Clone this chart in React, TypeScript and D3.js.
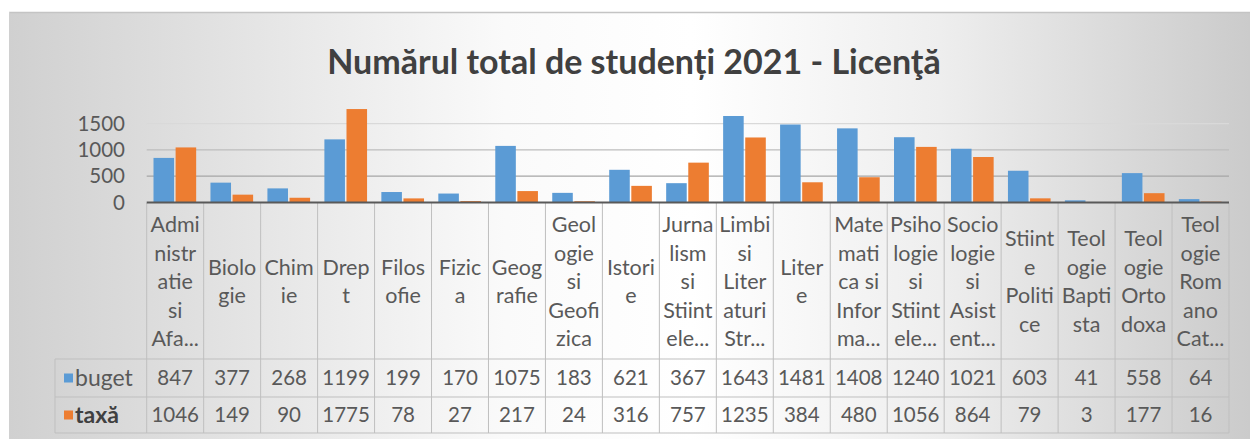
import React from "react";
import * as d3 from "d3";

const title = "Numărul total de studenți 2021 - Licenţă";
const categories = [
  "Administratie si Afaceri", "Biologie", "Chimie", "Drept", "Filosofie", "Fizica",
  "Geografie", "Geologie si Geofizica", "Istorie", "Jurnalism si Stiintele Comunicarii",
  "Limbi si Literaturi Straine", "Litere", "Matematica si Informatica",
  "Psihologie si Stiintele Educatiei", "Sociologie si Asistenta Sociala", "Stiinte Politice",
  "Teologie Baptista", "Teologie Ortodoxa", "Teologie Romano Catolica",
];
const categoryLines = [
  ["Admi", "nistr", "atie", "si", "Afa..."],
  ["Biolo", "gie"],
  ["Chim", "ie"],
  ["Drep", "t"],
  ["Filos", "ofie"],
  ["Fizic", "a"],
  ["Geog", "rafie"],
  ["Geol", "ogie", "si", "Geofi", "zica"],
  ["Istori", "e"],
  ["Jurna", "lism", "si", "Stiint", "ele..."],
  ["Limbi", "si", "Liter", "aturi", "Str..."],
  ["Liter", "e"],
  ["Mate", "mati", "ca si", "Infor", "ma..."],
  ["Psiho", "logie", "si", "Stiint", "ele..."],
  ["Socio", "logie", "si", "Asist", "ent..."],
  ["Stiint", "e", "Politi", "ce"],
  ["Teol", "ogie", "Bapti", "sta"],
  ["Teol", "ogie", "Orto", "doxa"],
  ["Teol", "ogie", "Rom", "ano", "Cat..."],
];
const seriesNames = ["buget", "taxă"];
const buget = [847, 377, 268, 1199, 199, 170, 1075, 183, 621, 367, 1643, 1481, 1408, 1240, 1021, 603, 41, 558, 64];
const taxa = [1046, 149, 90, 1775, 78, 27, 217, 24, 316, 757, 1235, 384, 480, 1056, 864, 79, 3, 177, 16];
const yTicks = [0, 500, 1000, 1500];

const colors = ["#5B9BD5", "#ED7D31"];
const gridColors = ["#595959", "#a6a6a6", "#bdbdbd", "#d9d9d9"];
const FONT = "Lato, 'Open Sans', sans-serif";
const textColor = "#595959";

export default function App() {
  const W = 1250, H = 439;
  const left = 146.7, right = 1229;
  const x = d3.scaleBand<string>().domain(categories).range([left, right]).paddingInner(0).paddingOuter(0);
  const bw = x.bandwidth();
  const xs = d3.scaleBand<string>().domain(seriesNames).range([6.8, bw - 7.5]).paddingInner(0.07);
  const y = d3.scaleLinear().domain([0, 2000]).range([202.5, 97.2]);
  const values = [buget, taxa];

  const headerTop = 203, headerBottom = 359, row1Bottom = 397, row2Bottom = 433;
  const headerCenter = (headerTop + headerBottom) / 2 + 0.5;
  const lineStep = 28.5;
  const fs = 20.5;
  const fsHead = 21.5;
  const rowCenters = [378, 415];

  return (
    <svg width={W} height={H} style={{ position: "absolute", left: 0, top: 0, display: "block" }}
      xmlns="http://www.w3.org/2000/svg">
      <defs>
        <linearGradient id="bg" x1="0" x2="1" y1="0" y2="0">
          <stop offset="0" stopColor="#d0d0d0" />
          <stop offset="0.4" stopColor="#fafafa" />
          <stop offset="0.55" stopColor="#ffffff" />
          <stop offset="0.75" stopColor="#eeeeee" />
          <stop offset="1" stopColor="#cbcbcb" />
        </linearGradient>
      </defs>
      <rect x={0} y={0} width={W} height={H} fill="#ffffff" />
      <rect x={9} y={12} width={W - 9} height={H - 12} fill="url(#bg)" />
      <line x1={9} x2={W} y1={12.5} y2={12.5} stroke="#c4c4c4" strokeWidth={1.5} />
      <line x1={9.5} x2={9.5} y1={12} y2={H} stroke="#d0d0d0" strokeWidth={1} />

      <text x={634} y={74} textAnchor="middle" fontFamily={FONT} fontWeight="bold" fontSize={34} fill="#404040">
        {title}
      </text>

      {yTicks.map((t, i) =>
        t === 0 ? null : (
          <line key={"g" + t} x1={left} x2={right} y1={y(t)} y2={y(t)} stroke={gridColors[i]} strokeWidth={1.3} />
        )
      )}
      {yTicks.map((t) => (
        <text key={"yl" + t} x={125} y={y(t)} dy="0.35em" textAnchor="end" fontFamily={FONT} fontSize={fs} fill={textColor}>
          {t}
        </text>
      ))}

      {categories.map((c, ci) =>
        seriesNames.map((s, si) => {
          const v = values[si][ci];
          return (
            <rect key={c + s} x={(x(c) as number) + (xs(s) as number)} y={y(v)} width={xs.bandwidth()}
              height={y(0) - y(v)} fill={colors[si]} />
          );
        })
      )}

      {/* table grid */}
      {categories.map((c) => (
        <line key={"v" + c} x1={x(c)} x2={x(c)} y1={headerTop} y2={row2Bottom} stroke="#bfbfbf" strokeWidth={1} />
      ))}
      <line x1={right} x2={right} y1={headerTop} y2={row2Bottom} stroke="#bfbfbf" strokeWidth={1} />
      <line x1={55} x2={55} y1={headerBottom} y2={row2Bottom} stroke="#bfbfbf" strokeWidth={1} />
      {[headerBottom, row1Bottom, row2Bottom].map((yy) => (
        <line key={"h" + yy} x1={55} x2={right} y1={yy} y2={yy} stroke="#bfbfbf" strokeWidth={1} />
      ))}
      <line x1={left} x2={right} y1={y(0)} y2={y(0)} stroke={gridColors[0]} strokeWidth={2.2} />

      {categories.map((c, ci) => {
        const lines = categoryLines[ci];
        const cx = (x(c) as number) + bw / 2;
        return lines.map((ln, li) => (
          <text key={c + li} x={cx} y={headerCenter + (li - (lines.length - 1) / 2) * lineStep} dy="0.35em"
            textAnchor="middle" fontFamily={FONT} fontSize={fsHead} fill={textColor}>
            {ln}
          </text>
        ));
      })}

      {seriesNames.map((s, si) => (
        <g key={"leg" + s}>
          <rect x={64} y={rowCenters[si] - 4.5} width={9} height={9} fill={colors[si]} />
          <text x={75} y={rowCenters[si]} dy="0.35em" fontFamily={FONT} fontSize={23}
            fontWeight={si === 1 ? "bold" : "normal"} fill={si === 1 ? "#404040" : textColor}>
            {s}
          </text>
        </g>
      ))}
      {seriesNames.map((s, si) =>
        categories.map((c, ci) => (
          <text key={"val" + s + c} x={(x(c) as number) + bw / 2} y={rowCenters[si]} dy="0.35em" textAnchor="middle"
            fontFamily={FONT} fontSize={fs} fill={textColor}>
            {values[si][ci]}
          </text>
        ))
      )}
    </svg>
  );
}
